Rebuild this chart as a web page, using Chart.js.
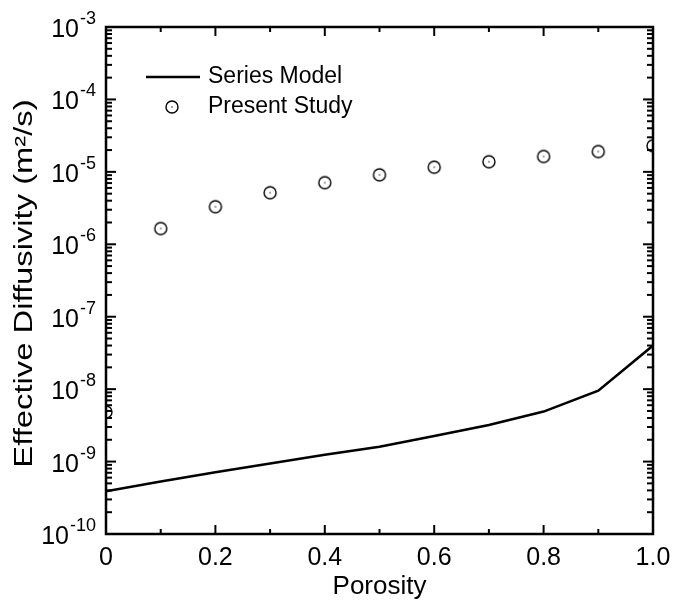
<!DOCTYPE html>
<html>
<head>
<meta charset="utf-8">
<script src="https://cdn.jsdelivr.net/npm/chart.js@4.4.0/dist/chart.umd.min.js"></script>
<style>
  html, body { margin: 0; padding: 0; background: #fff; }
</style>
</head>
<body>
<canvas id="diffChart" width="673" height="600"></canvas>
<script>
// data
var porosity = [0, 0.1, 0.2, 0.3, 0.4, 0.5, 0.6, 0.7, 0.8, 0.9, 1.0];
var seriesModel = [3.9e-10, 5.3e-10, 7.1e-10, 9.4e-10, 1.24e-9, 1.6e-9, 2.25e-9, 3.2e-9, 4.9e-9, 9.5e-9, 4.0e-8];
var presentStudy = [4.85e-9, 1.65e-6, 3.3e-6, 5.15e-6, 7.1e-6, 9.1e-6, 1.16e-5, 1.38e-5, 1.63e-5, 1.91e-5, 2.29e-5];
var xTickValues = [0, 0.2, 0.4, 0.6, 0.8, 1.0];
var yTickExponents = [-10, -9, -8, -7, -6, -5, -4, -3];
var yTitle = 'Effective Diffusivity (m²/s)';

var FONT = "'Liberation Sans', Arial, sans-serif";

// open circle with a dot in the middle
function ringDot(r) {
    var s = Math.ceil(r * 2 + 4);
    var c = document.createElement('canvas');
    c.width = s; c.height = s;
    var g = c.getContext('2d');
    g.strokeStyle = '#000';
    g.lineWidth = 1.4;
    g.beginPath();
    g.arc(s / 2, s / 2, r, 0, Math.PI * 2);
    g.stroke();
    g.fillStyle = '#000';
    g.fillRect(s / 2 - 0.6, s / 2 - 0.6, 1.2, 1.2);
    return c;
}
var marker = ringDot(6);

function line(ctx, x1, y1, x2, y2) {
    ctx.beginPath();
    ctx.moveTo(x1, y1);
    ctx.lineTo(x2, y2);
    ctx.stroke();
}

// frame, inward ticks, 10^n labels, y title and the legend
var frameAndTicks = {
    id: 'frameAndTicks',
    afterDatasetsDraw: function(chart) {
        var ctx = chart.ctx, a = chart.chartArea;
        var xs = chart.scales.x, ys = chart.scales.y;
        ctx.save();
        ctx.strokeStyle = '#000';
        ctx.lineWidth = 2.5;
        ctx.strokeRect(a.left, a.top, a.right - a.left, a.bottom - a.top);

        ctx.lineWidth = 2;
        for (var i = 0; i <= 10; i++) {
            var px = xs.getPixelForValue(i / 10);
            var len = i % 2 === 0 ? 9 : 5;
            line(ctx, px, a.bottom, px, a.bottom - len);
            line(ctx, px, a.top, px, a.top + len);
        }
        yTickExponents.forEach(function(e) {
            for (var m = 1; m <= 9; m++) {
                if (e === -3 && m > 1) break;
                var py = ys.getPixelForValue(m * Math.pow(10, e));
                var len = m === 1 ? 10 : 6;
                line(ctx, a.left, py, a.left + len, py);
                line(ctx, a.right, py, a.right - len, py);
            }
        });

        // y tick labels as 10 with a raised exponent
        ctx.fillStyle = '#000';
        ctx.textAlign = 'right';
        ctx.textBaseline = 'alphabetic';
        yTickExponents.forEach(function(e) {
            var py = ys.getPixelForValue(Math.pow(10, e));
            var exp = '-' + Math.abs(e);
            ctx.font = '18px ' + FONT;
            var ew = ctx.measureText(exp).width;
            ctx.fillText(exp, a.left - 10, py - 3);
            ctx.font = '25px ' + FONT;
            ctx.fillText('10', a.left - 10 - ew - 1, py + 10);
        });

        // y title, a bit stretched along its length like the original
        ctx.save();
        ctx.translate(25, (a.top + a.bottom) / 2 + 3);
        ctx.rotate(-Math.PI / 2);
        ctx.scale(1.26, 1);
        ctx.font = '26px ' + FONT;
        ctx.textAlign = 'center';
        ctx.textBaseline = 'middle';
        ctx.fillText(yTitle, 0, 0);
        ctx.restore();

        // legend
        var ds = chart.data.datasets;
        ctx.font = '23px ' + FONT;
        ctx.textAlign = 'left';
        ctx.textBaseline = 'middle';
        ctx.lineWidth = 2.5;
        line(ctx, a.left + 40, a.top + 50, a.left + 94, a.top + 50);
        ctx.fillText(ds[0].label, a.left + 102, a.top + 50);
        ctx.drawImage(marker, a.left + 66 - marker.width / 2, a.top + 80 - marker.height / 2);
        ctx.fillText(ds[1].label, a.left + 102, a.top + 80);
        ctx.restore();
    }
};

var ctx = document.getElementById('diffChart');
var myChart = new Chart(ctx, {
    type: 'scatter',
    data: {
        datasets: [{
            label: 'Series Model',
            data: porosity.map(function(p, i) { return { x: p, y: seriesModel[i] }; }),
            showLine: true,
            borderColor: '#000',
            borderWidth: 2.5,
            pointRadius: 0,
            tension: 0,
            clip: 0
        }, {
            label: 'Present Study',
            data: porosity.map(function(p, i) { return { x: p, y: presentStudy[i] }; }),
            showLine: false,
            pointStyle: marker,
            pointRadius: 6,
            clip: 0
        }]
    },
    options: {
        responsive: false,
        animation: false,
        layout: { padding: { top: 27, right: 20, left: 0, bottom: 0 } },
        plugins: {
            legend: { display: false },
            tooltip: { enabled: false }
        },
        scales: {
            x: {
                type: 'linear',
                min: 0,
                max: 1,
                afterBuildTicks: function(s) {
                    s.ticks = xTickValues.map(function(v) { return { value: v }; });
                },
                afterFit: function(s) { s.height = 66; },
                grid: { display: false },
                border: { display: false },
                ticks: {
                    color: '#000',
                    padding: 1,
                    maxRotation: 0,
                    font: { family: FONT, size: 25 },
                    callback: function(v) { return v === 0 ? '0' : v.toFixed(1); }
                },
                title: {
                    display: true,
                    text: 'Porosity',
                    color: '#000',
                    font: { family: FONT, size: 26 },
                    padding: { top: 0, bottom: -2 }
                }
            },
            y: {
                type: 'logarithmic',
                min: 1e-10,
                max: 1e-3,
                afterFit: function(s) { s.width = 106; },
                grid: { display: false },
                border: { display: false },
                ticks: { display: false },
                title: { display: false }
            }
        }
    },
    plugins: [frameAndTicks]
});
</script>
</body>
</html>
